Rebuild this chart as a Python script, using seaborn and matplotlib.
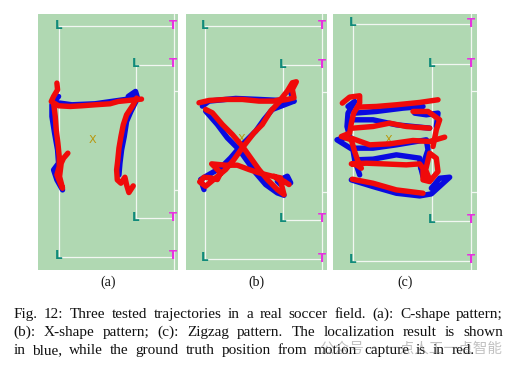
import matplotlib
matplotlib.use("Agg")
import matplotlib.pyplot as plt
import seaborn as sns

W, H = 519, 369
RED = "#f00a0a"
BLUE = "#0a0ae0"
GRASS = "#b0d8b2"
SERIF = "Liberation Serif"

# trajectories (x, y in field units)
a_blue = [
    [(295, 275), (317, 260), (323, 280), (303, 320), (290, 350), (283, 395), (275, 435), (270, 475), (267, 510)],
    [(85, 275), (65, 300), (65, 335), (73, 385), (82, 435), (85, 475), (70, 495), (80, 525), (97, 555)],
    [(75, 293), (125, 300), (195, 297), (315, 280)],
]
a_red = [
    [(80, 235), (82, 255), (70, 275), (63, 290), (85, 303), (120, 305), (155, 303), (195, 300),
     (240, 297), (265, 290), (335, 283)],
    [(320, 280), (310, 300), (290, 330), (280, 360), (273, 395), (267, 430), (263, 470), (260, 495),
     (262, 525), (273, 535), (285, 517), (290, 540), (297, 563), (310, 543)],
    [(70, 295), (75, 335), (78, 375), (83, 415), (87, 455), (87, 485), (80, 510), (90, 535), (97, 550),
     (88, 515), (93, 475), (100, 460), (113, 445)],
]
b_blue = [
    [(66, 304), (86, 289), (166, 281), (236, 284), (341, 289), (331, 264)],
    [(76, 319), (111, 359), (141, 399), (176, 434), (201, 469), (226, 504), (256, 539), (291, 564), (311, 571)],
    [(341, 289), (276, 314), (251, 344), (226, 379), (181, 424), (151, 459), (121, 489), (86, 509),
     (61, 524), (71, 554)],
    [(301, 539), (291, 529), (321, 514), (331, 534)],
]
b_red = [
    [(56, 294), (86, 287), (136, 284), (186, 284), (236, 289), (281, 289), (301, 284), (321, 259),
     (336, 234), (348, 231), (336, 254), (341, 279), (321, 284), (301, 287)],
    [(76, 314), (96, 324), (126, 359), (156, 389), (186, 424), (211, 459), (236, 494), (261, 524),
     (291, 554), (311, 569), (301, 529), (281, 514), (311, 529), (326, 539)],
    [(301, 287), (271, 319), (246, 359), (221, 384), (186, 429), (161, 464), (136, 494), (106, 519),
     (76, 544), (58, 531), (71, 517), (91, 519), (111, 524), (121, 504), (94, 477), (136, 481),
     (171, 481), (206, 494), (236, 504), (276, 514), (301, 519)],
]
c_blue = [
    [(55, 305), (75, 290), (55, 325), (52, 365), (60, 395), (22, 405), (70, 435), (75, 465), (90, 510)],
    [(75, 325), (140, 320), (220, 310), (280, 305)],
    [(55, 345), (130, 345), (200, 360), (300, 370)],
    [(70, 430), (130, 430), (200, 420), (290, 405), (295, 435), (275, 495), (280, 515)],
    [(75, 465), (130, 463), (200, 450), (270, 460), (273, 490)],
    [(65, 525), (130, 545), (200, 565), (270, 573), (305, 567), (360, 517), (330, 520), (305, 550)],
    [(255, 325), (290, 330), (325, 325), (320, 365)],
]
c_red = [
    [(38, 295), (60, 277), (90, 273), (90, 295), (72, 325), (65, 355), (60, 385), (35, 395), (65, 405),
     (75, 440), (85, 470), (95, 490), (80, 480), (65, 477), (110, 475), (160, 477), (230, 480), (270, 477),
     (280, 490), (280, 525), (300, 530), (325, 500), (320, 460), (300, 445), (288, 495), (300, 525)],
    [(85, 307), (140, 305), (200, 300), (270, 293), (325, 285)],
    [(70, 370), (130, 365), (180, 355), (230, 365), (300, 370)],
    [(65, 400), (120, 420), (180, 417), (250, 407), (300, 410), (345, 397)],
    [(250, 320), (295, 320), (330, 345), (320, 375), (310, 425)],
    [(68, 523), (130, 535), (200, 555), (280, 565)],
]

panel_labels = ["(a)", "(b)", "(c)"]
caption = [
    "Fig. 12: Three tested trajectories in a real soccer field. (a): C-shape pattern;",
    "(b): X-shape pattern; (c): Zigzag pattern. The localization result is shown",
    "in blue, while the ground truth position from motion capture is in red.",
]
watermark = "公众号 · 一点人工一点智能"

panels = [
    {"box": (38, 178), "xlim": (23, 445), "ox": 85, "ix": 317, "rx": 432,
     "oy": (65, 755), "iy": (180, 640), "marks": (188, 407),
     "ticks": (258, 555), "blue": a_blue, "red": a_red, "label_x": 108},
    {"box": (186, 327), "xlim": (17, 440), "ox": 73, "ix": 307, "rx": 425,
     "oy": (65, 763), "iy": (182, 645), "marks": (183, 402),
     "ticks": (262, 562), "blue": b_blue, "red": b_red, "label_x": 256},
    {"box": (333, 477), "xlim": (10, 442), "ox": 71, "ix": 307, "rx": 425,
     "oy": (58, 767), "iy": (178, 647), "marks": (175, 405),
     "ticks": (258, 562), "blue": c_blue, "red": c_red, "label_x": 405},
]


def draw_paths(ax, paths, color):
    for path in paths:
        sns.lineplot(x=[p[0] for p in path], y=[p[1] for p in path], ax=ax, sort=False,
                     estimator=None, color=color, linewidth=3.9, solid_capstyle="round",
                     solid_joinstyle="round")


def draw_field(ax, p):
    xl, xr = p["xlim"]
    line = dict(color="#f2f7f2", lw=0.9, zorder=1)
    ax.plot([p["ox"], p["rx"]], [p["oy"][0]] * 2, **line)
    ax.plot([p["ox"], p["rx"]], [p["oy"][1]] * 2, **line)
    ax.plot([p["ox"]] * 2, p["oy"], **line)
    ax.plot([p["ix"], p["rx"]], [p["iy"][0]] * 2, **line)
    ax.plot([p["ix"], p["rx"]], [p["iy"][1]] * 2, **line)
    ax.plot([p["ix"]] * 2, p["iy"], **line)
    ax.plot([p["rx"]] * 2, [28, 795], **line)
    for y in p["ticks"]:
        ax.plot([p["rx"], xr], [y, y], **line)
    style = dict(ha="center", va="center", fontsize=8.5, fontweight="bold", zorder=2)
    for y in list(p["oy"]) + list(p["iy"]):
        ax.text(p["rx"] - 1, y - 3, "T", color="#e832e0", **style)
    for y in p["oy"]:
        ax.text(p["ox"] - 1, y - 4, "L", color="#108a7a", **style)
    for y in p["iy"]:
        ax.text(p["ix"] - 1, y - 3, "L", color="#108a7a", **style)
    ax.text(*p["marks"], "X", color="#b8960c", ha="center", va="center", fontsize=8, zorder=2)


def justified(fig, words, y, left, right, size):
    # spreads the words across the column like the printed caption
    r = fig.canvas.get_renderer()
    items = [fig.text(0, y, w, fontsize=size, family=SERIF, va="baseline", color="#111111") for w in words]
    widths = [t.get_window_extent(r).width for t in items]
    gap = (right - left - sum(widths)) / (len(words) - 1)
    x = left
    for t, w in zip(items, widths):
        t.set_x(x / W)
        x += w + gap


sns.set_style("white")
fig = plt.figure(figsize=(W / 100, H / 100), dpi=100, facecolor="white")

for p in panels:
    x0, x1 = p["box"]
    ax = fig.add_axes([x0 / W, 1 - 270 / H, (x1 - x0) / W, 256 / H], facecolor=GRASS)
    ax.set_xlim(*p["xlim"])
    ax.set_ylim(795, 28)
    ax.axis("off")
    ax.add_patch(plt.Rectangle((p["xlim"][0], 28), p["xlim"][1] - p["xlim"][0], 767, color=GRASS, zorder=0))
    draw_field(ax, p)
    draw_paths(ax, p["blue"], BLUE)
    draw_paths(ax, p["red"], RED)

for p, label in zip(panels, panel_labels):
    fig.text(p["label_x"] / W, 1 - 282 / H, label, fontsize=10, family=SERIF, ha="center", va="center",
             color="#111111")

for i, line in enumerate(caption):
    right = 503 if i < 2 else 475
    justified(fig, line.split(" "), 1 - (318 + 18 * i) / H, 13.5, right, 11)

fig.text(502 / W, 1 - 349 / H, watermark, fontsize=10.5, family=["Noto Sans CJK SC", "DejaVu Sans"],
         ha="right", va="center", color="#777777", alpha=0.45)

fig.savefig("out.png", dpi=100)
